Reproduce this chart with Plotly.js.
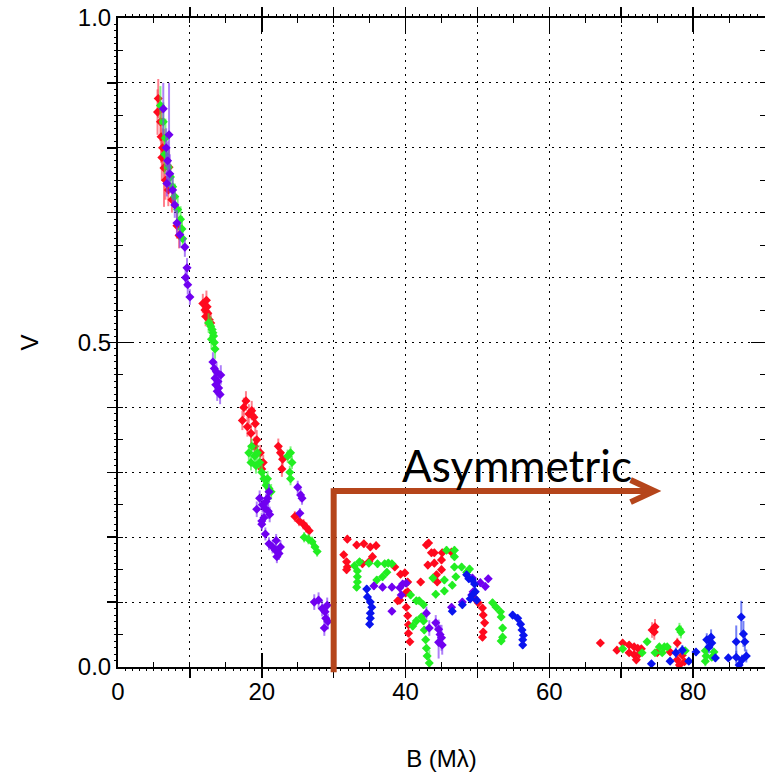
<!DOCTYPE html>
<html><head><meta charset="utf-8">
<script src="https://cdn.plot.ly/plotly-3.0.1.min.js"></script>
<style>body{margin:0;padding:0;background:#fff}#chart{width:765px;height:780px}</style>
</head><body><div id="chart"></div>
<script>
// Baseline B (Mlambda), visibility V and its error, per colour group
const redB = [5.6,5.5,5.9,6.0,6.2,6.1,6.4,7.1,6.6,7.0,7.5,8.2,8.5,
  11.8,12.1,12.3,12.5,12.2,12.7,12.4,12.9,
  17.5,17.8,18.2,17.3,18.6,18.9,18.0,19.1,18.5,19.3,19.0,19.8,20.2,20.0,
  22.3,22.6,22.9,22.8, 24.6,25.2,25.8,26.2,26.6,
  31.9,33.2,34.2,35.1,35.9,35.4,34.9,34.0,31.4,31.8,31.9,31.8,
  38.5,39.3,39.9,40.3,40.3,40.0,39.2,38.9,40.1,40.3,40.4,40.4,40.6,
  42.1,42.9,43.2,43.1,43.6,44.0,44.3,44.4,44.0,45.1,45.0,46.4,45.0,
  49.6,50.1,50.7,50.8,51.0,50.8,50.7,
  67.1,69.4,70.2,71.1,71.8,72.3,72.8,71.1,71.8,72.1,72.5,74.3,74.6,74.7,75.0,76.8,77.8,77.8,78.5,78.1,78.8];
const redV = [0.876,0.855,0.84,0.817,0.80,0.785,0.769,0.77,0.75,0.735,0.72,0.68,0.665,
  0.56,0.55,0.565,0.545,0.54,0.535,0.555,0.53,
  0.40,0.41,0.39,0.38,0.395,0.385,0.37,0.375,0.36,0.35,0.34,0.33,0.315,0.305,
  0.34,0.33,0.32,0.305, 0.232,0.225,0.22,0.215,0.21,
  0.197,0.188,0.19,0.185,0.187,0.17,0.162,0.159,0.173,0.162,0.154,0.15,
  0.154,0.143,0.145,0.131,0.116,0.114,0.103,0.102,0.092,0.079,0.065,0.052,0.039,
  0.131,0.188,0.191,0.157,0.176,0.176,0.142,0.131,0.16,0.176,0.165,0.177,0.15,
  0.106,0.099,0.091,0.08,0.068,0.054,0.046,
  0.037,0.026,0.037,0.034,0.031,0.029,0.028,0.022,0.019,0.011,0.02,0.057,0.054,0.062,0.022,0.023,0.037,0.011,0.018,0.003,0.008];
const redErr = [0.03,0.035,0.03,0.04,0.03,0.035,0.06,0.03,0.03,0.025,0.02,0.02,0.02,
  0.015,0.015,0.015,0.015,0.015,0.015,0.015,0.015,
  0.015,0.015,0.015,0.015,0.015,0.015,0.015,0.015,0.015,0.015,0.015,0.012,0.012,0.012,
  0.012,0.012,0.012,0.012, 0.008,0.008,0.008,0.008,0.008,
  0.006,0.006,0.006,0.006,0.006,0.006,0.006,0.006,0.006,0.006,0.006,0.006,
  0.006,0.006,0.006,0.006,0.006,0.006,0.006,0.006,0.006,0.006,0.006,0.006,0.006,
  0.006,0.006,0.006,0.006,0.006,0.006,0.006,0.006,0.006,0.006,0.006,0.006,0.006,
  0.006,0.006,0.006,0.006,0.006,0.006,0.006,
  0.005,0.005,0.005,0.005,0.005,0.005,0.005,0.005,0.005,0.005,0.005,0.012,0.012,0.012,0.005,0.005,0.008,0.015,0.005,0.005,0.005];

const greenB = [5.9,6.3,6.6,6.5,7.0,7.3,7.6,7.9,8.3,8.7,8.9,9.0,
  12.6,12.9,13.1,13.3,13.0,13.4,13.5,13.2,
  18.2,18.6,19.0,19.4,19.7,19.2,20.0,20.3,20.6,21.0,21.3,20.8,18.5,
  23.6,24.0,24.2,23.9,24.0, 25.9,26.5,27.0,27.4,27.7,
  32.9,33.3,33.3,33.3,33.2,33.6,34.9,36.1,37.1,37.6,38.1,37.4,36.8,36.0,
  40.7,41.5,41.9,42.5,42.2,41.5,41.0,42.5,42.6,42.8,42.9,43.0,43.3,43.8,44.2,
  45.4,45.4,46.5,46.8,47.0,47.8,46.8,46.8,45.7,48.9,48.5,
  52.1,52.6,53.2,53.3,53.5,53.5,53.3,
  70.2,72.9,73.6,74.7,75.3,76.0,76.4,75.7,78.1,78.3,78.9,81.7,81.7,81.8,82.6,82.9];
const greenV = [0.865,0.84,0.815,0.79,0.77,0.755,0.74,0.725,0.705,0.69,0.675,0.66,
  0.53,0.525,0.52,0.51,0.505,0.50,0.49,0.515,
  0.33,0.34,0.325,0.33,0.315,0.31,0.30,0.29,0.28,0.275,0.27,0.29,0.315,
  0.325,0.33,0.315,0.30,0.29, 0.2,0.197,0.193,0.185,0.178,
  0.156,0.148,0.139,0.131,0.123,0.162,0.16,0.159,0.159,0.16,0.159,0.146,0.139,0.134,
  0.111,0.102,0.102,0.096,0.077,0.071,0.063,0.071,0.057,0.042,0.029,0.017,0.006,0.137,0.112,
  0.134,0.117,0.126,0.154,0.139,0.154,0.17,0.18,0.18,0.151,0.146,
  0.099,0.092,0.085,0.077,0.06,0.046,0.04,
  0.028,0.022,0.039,0.022,0.031,0.031,0.031,0.022,0.058,0.054,0.025,0.025,0.009,0.017,0.015,0.023];
const greenErr = [0.03,0.03,0.03,0.03,0.03,0.02,0.02,0.02,0.02,0.02,0.02,0.015,
  0.015,0.015,0.015,0.015,0.015,0.015,0.015,0.015,
  0.012,0.012,0.012,0.012,0.012,0.012,0.012,0.012,0.012,0.012,0.012,0.012,0.012,
  0.01,0.01,0.01,0.01,0.01, 0.008,0.008,0.008,0.008,0.008,
  0.006,0.006,0.006,0.006,0.006,0.006,0.006,0.006,0.006,0.006,0.006,0.006,0.006,0.006,
  0.006,0.006,0.006,0.006,0.006,0.006,0.006,0.006,0.006,0.006,0.006,0.006,0.02,0.006,0.006,
  0.006,0.006,0.006,0.006,0.006,0.006,0.006,0.006,0.006,0.006,0.006,
  0.006,0.006,0.006,0.006,0.006,0.006,0.006,
  0.005,0.005,0.005,0.005,0.005,0.005,0.005,0.005,0.01,0.01,0.005,0.005,0.008,0.008,0.005,0.005];

const purpleB = [6.3,7.1,6.7,6.9,7.2,6.8,7.6,7.9,8.2,8.6,9.3,9.6,9.7,10.0,9.4,
  13.2,13.4,13.7,13.5,13.9,14.0,13.8,14.2,14.3,13.6,
  19.7,19.3,20.1,20.4,20.6,20.9,21.1,20.3,20.8,20.0,21.0,
  20.0,20.5,21.0,21.5,22.0,21.9,22.4,22.1,22.6,
  25.0,25.4,25.6,25.3,
  27.3,27.9,28.4,28.8,29.1,28.9,29.2,28.7,
  35.6,36.8,38.1,39.2,39.6,40.1,39.4,38.1,
  42.9,43.3,44.2,44.6,44.8,45.0,44.6,45.1,
  49.3,50.4,51.5,51.1,49.4,49.2,47.9,46.4];
const purpleV = [0.86,0.82,0.80,0.78,0.76,0.745,0.735,0.712,0.684,0.666,0.647,0.615,0.589,0.57,0.60,
  0.47,0.46,0.455,0.445,0.44,0.43,0.425,0.42,0.45,0.435,
  0.26,0.243,0.25,0.245,0.255,0.24,0.235,0.23,0.26,0.225,0.27,
  0.22,0.205,0.19,0.185,0.195,0.18,0.175,0.17,0.185,
  0.277,0.265,0.26,0.237,
  0.1,0.103,0.09,0.085,0.095,0.075,0.07,0.06,
  0.125,0.123,0.123,0.122,0.128,0.129,0.111,0.086,
  0.083,0.06,0.068,0.058,0.05,0.045,0.038,0.034,
  0.137,0.13,0.136,0.124,0.116,0.111,0.10,0.092];
const purpleErr = [0.04,0.08,0.03,0.03,0.03,0.02,0.02,0.02,0.02,0.02,0.015,0.015,0.015,0.012,0.015,
  0.015,0.015,0.015,0.015,0.015,0.015,0.015,0.015,0.015,0.015,
  0.012,0.012,0.012,0.012,0.012,0.012,0.012,0.012,0.012,0.012,0.012,
  0.01,0.01,0.01,0.01,0.01,0.01,0.01,0.01,0.01,
  0.01,0.01,0.01,0.008,
  0.012,0.012,0.012,0.012,0.012,0.012,0.012,0.012,
  0.006,0.006,0.006,0.006,0.006,0.006,0.006,0.006,
  0.01,0.012,0.012,0.015,0.015,0.02,0.025,0.015,
  0.006,0.006,0.006,0.006,0.006,0.006,0.006,0.006];

const blueB = [34.6,34.7,35.1,35.3,35.1,35.1,35.0,
  48.8,49.3,49.6,49.7,49.3,49.0,47.9,46.5,48.5,49.9,
  54.9,55.6,56.0,56.2,56.4,56.3,56.3,
  74.2,76.8,77.6,78.5,79.4,80.4,81.9,82.5,82.6,82.2,83.1,84.9,86.0,86.7,87.0,87.2,87.4,86.0,86.8,86.4];
const blueV = [0.12,0.108,0.1,0.092,0.083,0.075,0.066,
  0.136,0.134,0.128,0.116,0.111,0.105,0.096,0.086,0.142,0.103,
  0.08,0.075,0.066,0.057,0.049,0.042,0.034,
  0.005,0.009,0.022,0.026,0.009,0.023,0.042,0.046,0.037,0.031,0.014,0.014,0.039,0.077,0.051,0.039,0.017,0.015,0.011,0.003];
const blueErr = [0.006,0.006,0.006,0.006,0.006,0.006,0.006,
  0.006,0.006,0.006,0.006,0.006,0.006,0.006,0.006,0.006,0.006,
  0.006,0.006,0.006,0.006,0.006,0.006,0.006,
  0.005,0.005,0.008,0.008,0.005,0.006,0.01,0.012,0.01,0.01,0.006,0.005,0.025,0.025,0.02,0.015,0.01,0.01,0.008,0.005];

function series(x, y, e, col, errCol) {
  return {
    type: 'scatter', mode: 'markers', x: x, y: y,
    error_y: {type: 'data', array: e, visible: true, color: errCol, thickness: 2, width: 0},
    error_x: {type: 'constant', value: 0.35, visible: true, color: errCol, thickness: 2, width: 0},
    marker: {symbol: 'diamond', size: 7, color: col},
    cliponaxis: true, showlegend: false
  };
}
const data = [
  series(redB, redV, redErr, '#FF0A1E', 'rgba(255,60,80,0.65)'),
  series(greenB, greenV, greenErr, '#22EE22', 'rgba(60,240,60,0.65)'),
  series(purpleB, purpleV, purpleErr, '#7000F0', 'rgba(130,60,245,0.65)'),
  series(blueB, blueV, blueErr, '#0A14EE', 'rgba(40,60,240,0.65)'),
  {type: 'scatter', x: [], y: [], xaxis: 'x2', yaxis: 'y2', showlegend: false}
];

const font = 'Liberation Sans, Arial, sans-serif';
const arrowCol = '#B5451B';
const gridDash = '2px,5px';
const layout = {
  width: 765, height: 780,
  margin: {l: 118, r: 0, t: 18, b: 113},
  paper_bgcolor: '#fff', plot_bgcolor: '#fff',
  font: {family: font, color: '#000'},
  xaxis: {
    range: [0, 90], tick0: 0, dtick: 20, ticks: 'inside', ticklen: 14, tickwidth: 1.5, tickcolor: '#000',
    showline: true, linecolor: '#000', linewidth: 2, mirror: 'allticks', zeroline: false,
    showgrid: true, gridcolor: '#000', griddash: gridDash, gridwidth: 1,
    minor: {dtick: 10, ticklen: 9, tickcolor: '#000', showgrid: true, gridcolor: '#000', griddash: gridDash, gridwidth: 1},
    tickfont: {size: 24, family: font}, ticklabelstandoff: 2,
    title: {text: 'B (Mλ)', font: {size: 24, family: font}, standoff: 46}
  },
  yaxis: {
    range: [0, 1], tick0: 0, dtick: 0.5, tickformat: '.1f', ticks: 'inside', ticklen: 14, tickwidth: 1.5, tickcolor: '#000',
    showline: true, linecolor: '#000', linewidth: 2, mirror: 'allticks', zeroline: false,
    showgrid: true, gridcolor: '#000', griddash: gridDash, gridwidth: 1,
    minor: {dtick: 0.1, ticklen: 9, tickcolor: '#000', showgrid: true, gridcolor: '#000', griddash: gridDash, gridwidth: 1},
    tickfont: {size: 24, family: font},
    title: {text: 'V', font: {size: 24, family: font}, standoff: 32}
  },
  xaxis2: {
    overlaying: 'x', anchor: 'y2', range: [0, 90], tick0: 0, dtick: 5, ticks: 'inside', ticklen: 5, tickcolor: '#000',
    showticklabels: false, showgrid: false, zeroline: false, showline: false, mirror: 'allticks',
    minor: {dtick: 1, ticklen: 3, tickcolor: '#000', showgrid: false}
  },
  yaxis2: {
    overlaying: 'y', anchor: 'x2', range: [0, 1], tick0: 0, dtick: 0.05, ticks: 'inside', ticklen: 5, tickcolor: '#000',
    showticklabels: false, showgrid: false, zeroline: false, showline: false, mirror: 'allticks',
    minor: {dtick: 0.01, ticklen: 3, tickcolor: '#000', showgrid: false}
  },
  shapes: [
    {type: 'line', xref: 'x', yref: 'paper', x0: 30, x1: 30, y0: -0.008, y1: 0.2755, line: {color: arrowCol, width: 6}},
    {type: 'line', xref: 'x', yref: 'y', x0: 30, x1: 74.5, y0: 0.271, y1: 0.271, line: {color: arrowCol, width: 6}},
    {type: 'path', xref: 'x', yref: 'y', path: 'M 71.3,0.288 L 74.6,0.271 L 71.3,0.254', line: {color: arrowCol, width: 6}}
  ],
  annotations: [
    {xref: 'x', yref: 'y', x: 55.5, y: 0.312, text: 'Asymmetric', showarrow: false,
     font: {family: 'Lato, Open Sans, sans-serif', size: 44, color: '#000'}}
  ]
};
Plotly.newPlot('chart', data, layout, {displayModeBar: false, staticPlot: true});
</script></body></html>
